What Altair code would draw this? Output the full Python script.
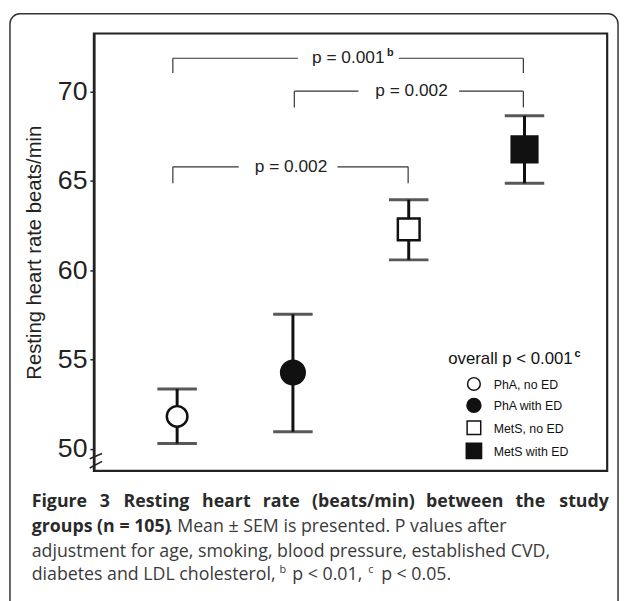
import altair as alt
import pandas as pd

# ---------------- data ----------------
groups = ["PhA, no ED", "PhA with ED", "MetS, no ED", "MetS with ED"]
group_pos = [1, 2, 3, 4]
means = [51.81, 54.27, 62.29, 66.77]
sem_low = [50.29, 50.95, 60.58, 64.87]
sem_high = [53.35, 57.53, 63.95, 68.65]
shapes = ["circle", "circle", "square", "square"]
fills = ["white", "#111111", "white", "#111111"]

y_ticks = [50, 55, 60, 65, 70]

# significance brackets (data coordinates)
br_left = [0.963, 2.012, 0.963]
br_right = [3.99, 3.99, 2.995]
br_y = [71.875, 70.03, 65.79]
br_drop = [71.05, 69.11, 64.87]
br_gap_from = [2.043, 2.566, 1.532]
br_gap_to = [2.916, 3.436, 2.384]
br_text = ["p = 0.001", "p = 0.002", "p = 0.002"]
br_text_x = [2.165, 2.711, 1.671]

legend_title = "overall p < 0.001"
y_title = "Resting heart rate beats/min"

caption_line1 = ["Figure", "3", "Resting", "heart", "rate", "(beats/min)", "between", "the", "study"]
caption_line2_bold = "groups (n = 105)"
caption_line2 = ". Mean \u00b1 SEM is presented. P values after"
caption_line3 = "adjustment for age, smoking, blood pressure, established CVD,"
caption_line4 = ["diabetes and LDL cholesterol,", "p < 0.01,", "p < 0.05."]
caption_sups = ["b", "c"]

# ---------------- tables ----------------
df = pd.DataFrame({
    "group": groups, "x": group_pos, "mean": means,
    "lo": sem_low, "hi": sem_high, "shape": shapes, "fill": fills,
    "size": [434, 573, 484, 676],
})

segs = []
for l, r, y, d, g0, g1 in zip(br_left, br_right, br_y, br_drop, br_gap_from, br_gap_to):
    segs.append({"x": l, "x2": g0, "y": y, "y2": y})
    segs.append({"x": g1, "x2": r, "y": y, "y2": y})
    segs.append({"x": l, "x2": l, "y": y, "y2": d})
    segs.append({"x": r, "x2": r, "y": y, "y2": d})
seg_df = pd.DataFrame(segs)
lab_df = pd.DataFrame({"x": br_text_x, "y": br_y, "t": br_text})

xs = alt.Scale(domain=[0.281, 4.714], nice=False, zero=False)
ys = alt.Scale(domain=[48.76, 73.26], nice=False, zero=False)

yaxis = alt.Axis(
    values=y_ticks, title=y_title, titleFont="Liberation Sans", titleFontSize=20.5,
    titleFontWeight="normal", titleColor="#222222", titleAngle=270, titleX=-60,
    titleY=221.5, titleAlign="center", titleBaseline="middle",
    labelFont="Liberation Sans", labelFontSize=27, labelColor="#222222",
    labelPadding=3, tickSize=4, tickWidth=1.5, tickColor="#222222",
    domainColor="#222222", domainWidth=2.5, grid=False, labelOverlap=False,
)


def X(f):
    return alt.X(f, type="quantitative", scale=xs, axis=None)


def Y(f):
    return alt.Y(f, type="quantitative", scale=ys, axis=yaxis)


one = pd.DataFrame({"a": [0]})
layers = []

# outer rounded frame
layers.append(alt.Chart(one).mark_rect(
    fillOpacity=0, stroke="#333333", strokeWidth=1.5, cornerRadius=10
).encode(x=alt.value(-85), x2=alt.value(531), y=alt.value(-20), y2=alt.value(640)))

# brackets
layers.append(alt.Chart(seg_df).mark_rule(color="#333333", strokeWidth=1.2).encode(
    x=X("x"), x2="x2", y=Y("y"), y2="y2"))
layers.append(alt.Chart(lab_df).mark_text(
    align="left", baseline="middle", font="Liberation Sans", fontSize=17.5, color="#222222"
).encode(x=X("x"), y=Y("y"), text="t:N"))
layers.append(alt.Chart(one).mark_text(
    align="left", baseline="middle", font="Liberation Sans", fontSize=11,
    fontWeight="bold", color="#222222", text="b"
).encode(x=alt.value(297), y=alt.value(20)))

# break mark on the y axis
brk = pd.DataFrame({"x": [0.245, 0.245], "x2": [0.352, 0.352],
                    "y": [49.44, 48.92], "y2": [49.73, 49.29]})
layers.append(alt.Chart(brk).mark_rule(color="#222222", strokeWidth=1.5).encode(
    x=X("x"), x2="x2", y=Y("y"), y2="y2"))

# error bars
layers.append(alt.Chart(df).mark_rule(color="#111111", strokeWidth=3).encode(
    x=X("x"), y=Y("lo"), y2="hi"))
layers.append(alt.Chart(df).mark_tick(orient="horizontal", size=40, thickness=3, color="#111111").encode(
    x=X("x"), y=Y("lo")))
layers.append(alt.Chart(df).mark_tick(orient="horizontal", size=40, thickness=3, color="#111111").encode(
    x=X("x"), y=Y("hi")))

# markers
layers.append(alt.Chart(df).mark_point(filled=True, stroke="#111111", strokeWidth=2.5, opacity=1).encode(
    x=X("x"), y=Y("mean"),
    shape=alt.Shape("shape:N", scale=None),
    fill=alt.Fill("fill:N", scale=None),
    size=alt.Size("size:Q", scale=None)))

# legend (drawn in the plot)
layers.append(alt.Chart(one).mark_text(
    align="left", baseline="middle", font="Liberation Sans", fontSize=17, color="#111111",
    text=legend_title).encode(x=alt.value(359), y=alt.value(330)))
layers.append(alt.Chart(one).mark_text(
    align="left", baseline="middle", font="Liberation Sans", fontSize=11, fontWeight="bold",
    color="#111111", text="c").encode(x=alt.value(487), y=alt.value(325)))
leg_y = [355, 376.7, 399.3, 422.7]
leg_sizes = [165, 200, 190, 240]
for g, s, f, ly, sz in zip(groups, shapes, fills, leg_y, leg_sizes):
    layers.append(alt.Chart(one).mark_point(
        shape=s, filled=True, fill=f, stroke="#111111", strokeWidth=1.5, size=sz, opacity=1
    ).encode(x=alt.value(385), y=alt.value(ly)))
    layers.append(alt.Chart(one).mark_text(
        align="left", baseline="middle", font="Liberation Sans", fontSize=12.5,
        color="#111111", text=g).encode(x=alt.value(405), y=alt.value(ly + 1)))

# caption
cap_font = "Open Sans"
cap_size = 18
line1_x = [32, 101, 125, 204.5, 266, 316, 431.5, 522, 566.5]
for w, px in zip(caption_line1, line1_x):
    layers.append(alt.Chart(one).mark_text(
        align="left", baseline="middle", font=cap_font, fontSize=cap_size, fontWeight="bold",
        color="#2a2a2a", text=w).encode(x=alt.value(px - 95), y=alt.value(475)))
layers.append(alt.Chart(one).mark_text(
    align="left", baseline="middle", font=cap_font, fontSize=cap_size, fontWeight="bold",
    color="#2a2a2a", text=caption_line2_bold).encode(x=alt.value(32 - 95), y=alt.value(500)))
layers.append(alt.Chart(one).mark_text(
    align="left", baseline="middle", font=cap_font, fontSize=cap_size,
    color="#3a3a3a", text=caption_line2).encode(x=alt.value(170 - 95), y=alt.value(500)))
layers.append(alt.Chart(one).mark_text(
    align="left", baseline="middle", font=cap_font, fontSize=cap_size,
    color="#3a3a3a", text=caption_line3).encode(x=alt.value(32 - 95), y=alt.value(525)))
for t, px in zip(caption_line4, [32, 296, 386]):
    layers.append(alt.Chart(one).mark_text(
        align="left", baseline="middle", font=cap_font, fontSize=cap_size,
        color="#3a3a3a", text=t).encode(x=alt.value(px - 95), y=alt.value(549)))
for t, px in zip(caption_sups, [283, 373]):
    layers.append(alt.Chart(one).mark_text(
        align="left", baseline="middle", font=cap_font, fontSize=11,
        color="#3a3a3a", text=t).encode(x=alt.value(px - 95), y=alt.value(543)))

chart = alt.layer(*layers).properties(
    width=520, height=443,
    padding={"left": 87, "top": 22, "right": 14, "bottom": 128},
    autosize=alt.AutoSizeParams(type="none"),
    background="white",
).configure_view(stroke="#222222", strokeWidth=2.2)

chart.save("out.html", embed_options={"renderer": "svg", "actions": False})
